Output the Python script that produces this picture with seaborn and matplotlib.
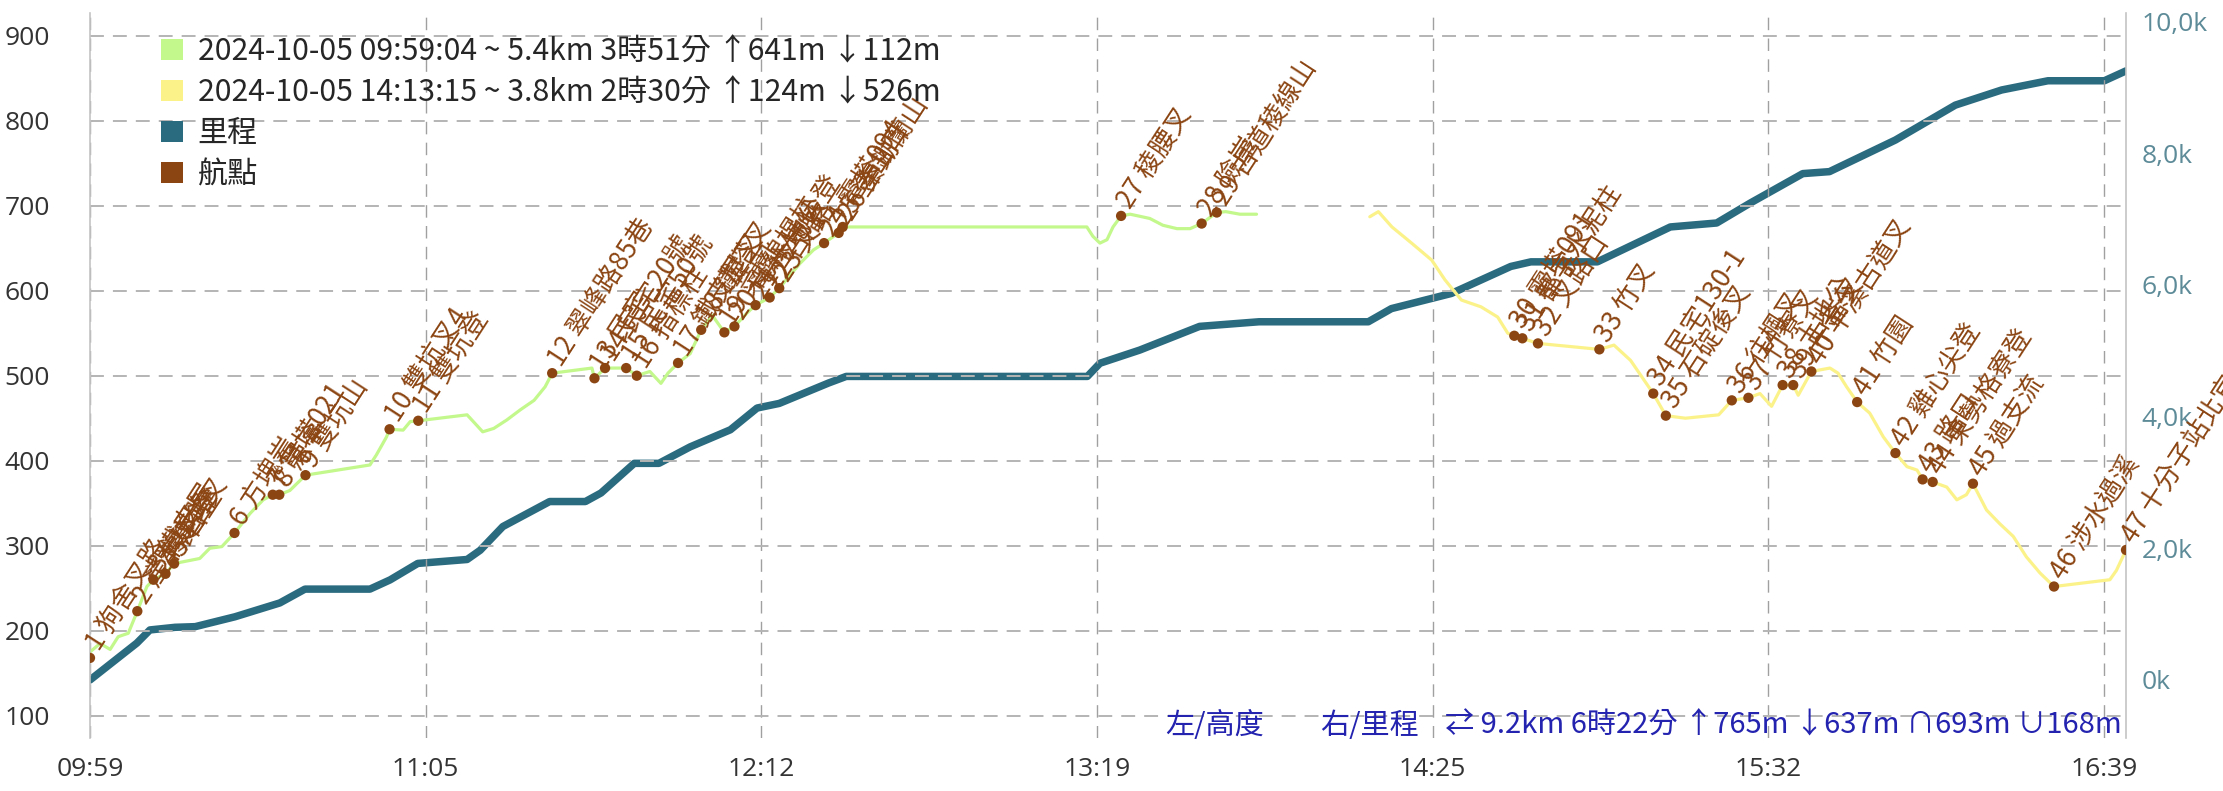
import numpy as np
import pandas as pd
import matplotlib
matplotlib.use("Agg")
import matplotlib.pyplot as plt
from matplotlib.patches import Patch
import seaborn as sns

# minutes elapsed since 2024-10-05 09:59:04
track1_min = [0.0, 2.0, 4.0, 5.6, 7.6, 9.4, 11.3, 12.6, 15.0, 16.7, 21.8, 23.8, 26.2, 28.7,
              31.8, 34.4, 36.3, 37.6, 39.7, 42.8, 55.6, 56.9, 58.9, 59.5, 62.2, 63.6, 65.2,
              74.9, 78.0, 80.2, 82.8, 85.5, 88.2, 90.4, 91.8, 99.7, 100.2, 102.3, 106.5, 108.6,
              111.2, 113.4, 114.8, 116.8, 119.2, 121.4, 123.6, 126.0, 128.0, 130.7, 132.2,
              135.0, 136.9, 141.0, 143.7, 145.8, 148.7, 149.5, 198.0, 199.2, 200.6, 202.0,
              203.2, 204.8, 206.6, 210.5, 213.1, 215.9, 218.5, 220.8, 223.8, 225.6, 228.4, 231.7]
track1_ele = [175, 185, 178, 193, 197, 223, 252, 260, 267, 279, 285, 297, 299, 315,
              338, 354, 360, 360, 365, 383, 395, 407, 428, 437, 436, 446, 447,
              454, 434, 438, 448, 460, 471, 487, 503, 509, 497, 509, 509, 500,
              505, 491, 503, 515, 526, 554, 571, 551, 558, 575, 583,
              592, 603, 632, 648, 656, 668, 675, 675, 664, 656, 660,
              675, 688, 690, 685, 677, 673, 673, 679, 692, 693, 690, 690]

track2_min = [254.2, 255.9, 258.6, 262.5, 266.5, 269.1, 272.4, 276.3, 279.6, 281.6, 282.9,
              284.5, 287.6, 299.8, 302.7, 306.0, 310.5, 313.0, 316.9, 323.5, 326.1, 329.4,
              331.7, 334.0, 336.2, 338.3, 339.3, 341.9, 345.6, 347.2, 348.9, 351.0, 353.5,
              356.2, 358.6, 360.9, 362.9, 364.0, 366.0, 368.8, 370.8, 372.7, 374.0, 376.7,
              379.3, 382.0, 384.6, 387.3, 390.1, 401.2, 402.5, 404.4]
track2_ele = [687, 693, 675, 656, 636, 613, 589, 581, 569, 550, 547,
              544, 538, 531, 536, 518, 479, 453, 450, 454, 471, 474,
              479, 464, 489, 489, 477, 505, 509, 503, 487, 469, 456,
              428, 409, 393, 389, 378, 375, 369, 354, 360, 373, 342,
              326, 311, 287, 268, 252, 260, 271, 295]

dist_min = [0.0, 9.3, 11.9, 16.9, 20.9, 28.8, 37.7, 42.7, 55.6, 59.6, 65.1, 74.9, 77.5, 82.0,
            91.3, 98.4, 101.5, 108.1, 113.0, 119.2, 127.2, 132.5, 136.9, 146.7, 150.2, 198.1,
            200.6, 208.5, 220.4, 232.2, 253.9, 258.5, 270.4, 282.2, 286.2, 299.4, 313.9,
            323.1, 329.7, 340.2, 345.5, 358.6, 370.5, 379.7, 388.9, 400.1, 404.4]
dist_km = [0.0, 0.56, 0.76, 0.80, 0.81, 0.96, 1.17, 1.38, 1.38, 1.52, 1.77, 1.83, 1.97, 2.33,
           2.71, 2.71, 2.84, 3.29, 3.29, 3.54, 3.80, 4.13, 4.20, 4.51, 4.61, 4.61,
           4.81, 5.01, 5.37, 5.44, 5.44, 5.64, 5.87, 6.28, 6.35, 6.35, 6.88,
           6.94, 7.24, 7.69, 7.72, 8.20, 8.73, 8.96, 9.10, 9.10, 9.25]

wpt_min = [0.0, 9.4, 12.6, 15.0, 16.7, 28.7, 36.3, 37.6, 42.8, 59.5, 65.2, 91.8, 100.2, 102.3,
           106.5, 108.6, 116.8, 121.4, 126.0, 128.0, 132.2, 135.0, 136.9, 145.8, 148.7, 149.5,
           204.8, 220.8, 223.8, 282.9, 284.5, 287.6, 299.8, 310.5, 313.0, 326.1, 329.4, 336.2,
           338.3, 341.9, 351.0, 358.6, 364.0, 366.0, 374.0, 390.1, 404.4]
wpt_ele = [168, 223, 260, 267, 279, 315, 360, 360, 383, 437, 447, 503, 497, 509,
           509, 500, 515, 554, 551, 558, 583, 592, 603, 656, 668, 675,
           688, 679, 692, 547, 544, 538, 531, 479, 453, 471, 474, 489,
           489, 505, 469, 409, 378, 375, 373, 252, 295]
wpt_names = ["狗舍叉路", "產業道路", "鐵皮屋", "農舍叉", "石壁", "方塊岩", "電塔021", "涼亭",
             "雙坑山", "雙坑叉4", "雙坑登", "翠峰路85巷", "民宅", "民宅20號", "民宅50號",
             "指標柱", "鐵皮屋叉", "鐵塔叉", "菜園", "電線桿柱", "土地公登", "石階", "叉路",
             "電塔094", "登山口", "秦鋤蘭山", "稜腰叉", "險崖", "古道稜線山", "電塔091",
             "都字水泥柱", "叉路口", "竹叉", "民宅130-1", "石碇後叉", "往楓叉", "竹寮叉",
             "土地公", "中崙叉", "平溪古道叉", "竹園", "雞心尖登", "路口", "東勢格寮登",
             "過支流", "涉水過溪", "十分子站北宜古道口"]

x_tick_labels = ["09:59", "11:05", "12:12", "13:19", "14:25", "15:32", "16:39"]
ele_ticks = [100, 200, 300, 400, 500, 600, 700, 800, 900]
km_ticks = [0, 2, 4, 6, 8, 10]
km_tick_labels = ["0k", "2,0k", "4,0k", "6,0k", "8,0k", "10,0k"]
legend_labels = ["2024-10-05 09:59:04 ~ 5.4km 3時51分 ↑641m ↓112m",
                 "2024-10-05 14:13:15 ~ 3.8km 2時30分 ↑124m ↓526m",
                 "里程", "航點"]
summary_texts = ["左/高度", "右/里程", "⇄ 9.2km 6時22分 ↑765m ↓637m ∩693m ∪168m"]

green = "#c3f88c"
yellow = "#fbf28a"
teal = "#2b6b80"
brown = "#8b4513"

sns.set_theme(style="white")
plt.rcParams["font.family"] = ["Noto Sans CJK TC", "DejaVu Sans"]
plt.rcParams["lines.scale_dashes"] = False

t1 = pd.DataFrame({"min": track1_min, "ele": track1_ele})
t2 = pd.DataFrame({"min": track2_min, "ele": track2_ele})
dist = pd.DataFrame({"min": dist_min, "km": dist_km})
wpts = pd.DataFrame({"min": wpt_min, "ele": wpt_ele,
                     "name": [f"{i} {n}" for i, n in enumerate(wpt_names, 1)]})

fig = plt.figure(figsize=(22.23, 7.91), dpi=100)
ax = fig.add_axes([90 / 2223, 53 / 791, 2036 / 2223, 725 / 791])
ax2 = ax.twinx()
ax.set_zorder(ax2.get_zorder() + 1)
ax.patch.set_visible(False)

# distance on the right axis, drawn behind
sns.lineplot(data=dist, x="min", y="km", ax=ax2, color=teal, lw=5.4, legend=False)
ax2.set_ylim(-0.881, 10.129)
ax2.set_yticks(km_ticks)
ax2.set_yticklabels(km_tick_labels, family="Open Sans", fontsize=19, color="#5d8b98")
ax2.tick_params(axis="y", length=0, pad=11)
ax2.set_ylabel("")
for s in ax2.spines.values():
    s.set_visible(False)

sns.lineplot(data=t1, x="min", y="ele", ax=ax, color=green, lw=2.3, legend=False)
sns.lineplot(data=t2, x="min", y="ele", ax=ax, color=yellow, lw=2.3, legend=False)
sns.scatterplot(data=wpts, x="min", y="ele", ax=ax, color=brown, s=55, edgecolor="none",
                zorder=4, legend=False)

for m, e, name in zip(wpts["min"], wpts["ele"], wpts["name"]):
    ax.annotate(name, (m, e), xytext=(2, 7), textcoords="offset points", rotation=57,
                rotation_mode="anchor", ha="left", va="center", fontsize=19, color=brown,
                annotation_clip=False, zorder=6)

ax.set_xlim(0, wpt_min[-1])
ax.set_ylim(73.8, 926.7)
ax.set_xticks(np.linspace(0, 400, len(x_tick_labels)))
ax.set_xticklabels(x_tick_labels, family="Open Sans", fontsize=19, color="#333333")
ax.set_yticks(ele_ticks)
ax.set_yticklabels([str(v) for v in ele_ticks], family="Open Sans", fontsize=19, color="#333333")
ax.tick_params(axis="x", length=0, pad=14)
ax.tick_params(axis="y", length=0, pad=29)
ax.set_xlabel("")
ax.set_ylabel("")
ax.grid(axis="y", color="#b4b4b4", lw=1.4, dashes=(10, 6.5))
ax.grid(axis="x", color="#a0a0a0", lw=1.0, dashes=(9, 6))
for side in ["top", "bottom"]:
    ax.spines[side].set_visible(False)
for side in ["left", "right"]:
    ax.spines[side].set_color("#c4c4c4")
    ax.spines[side].set_linewidth(1.2)

handles = [Patch(facecolor=c, edgecolor="none") for c in [green, yellow, teal, brown]]
leg = ax.legend(handles, legend_labels, loc="upper left", bbox_to_anchor=(0.0349, 0.968),
                frameon=False, fontsize=21.7, handlelength=0.72, handleheight=0.72,
                handletextpad=0.5, labelspacing=0.33, borderpad=0, borderaxespad=0)
leg.set_zorder(10)

# bottom-right summary line
fig.text(1165 / 2223, 1 - 726 / 791, summary_texts[0], ha="left", va="center",
         fontsize=21, color="#2323b0")
fig.text(1320 / 2223, 1 - 726 / 791, summary_texts[1], ha="left", va="center",
         fontsize=21, color="#2323b0")
fig.text(2122 / 2223, 1 - 726 / 791, summary_texts[2], ha="right", va="center",
         fontsize=21, color="#2323b0")

fig.savefig("out.png", dpi=100)
